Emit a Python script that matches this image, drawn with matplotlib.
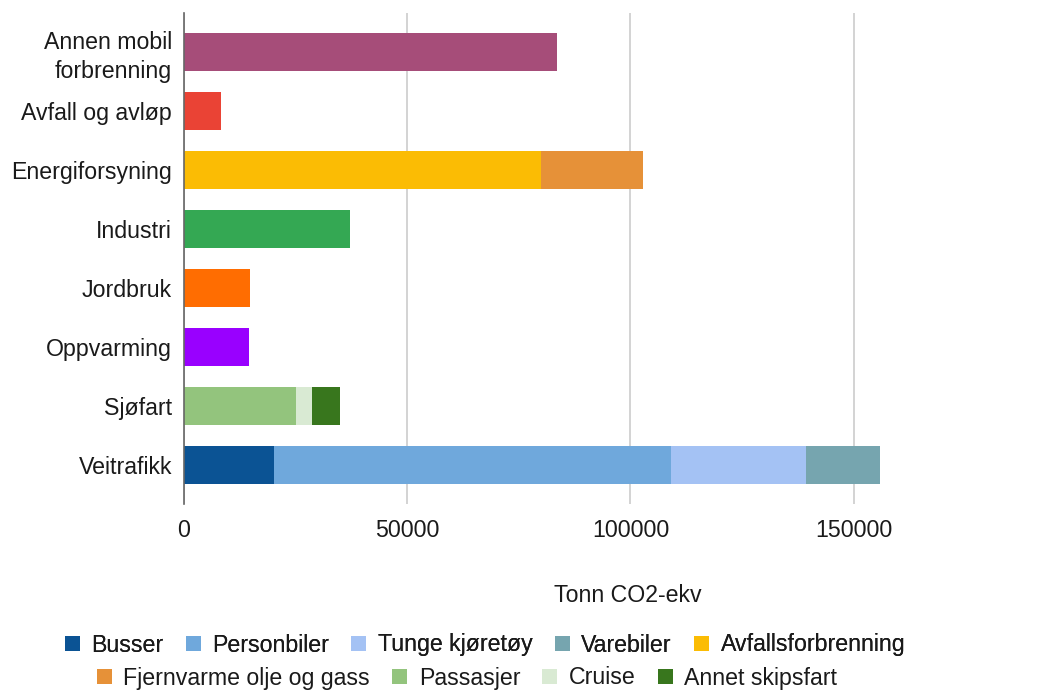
import numpy as np
import matplotlib
matplotlib.use('Agg')
import matplotlib.pyplot as plt
from matplotlib.patches import Patch

plt.rcParams['font.family'] = ['Liberation Sans', 'DejaVu Sans']

# categories (top to bottom)
kategorier = ['Annen mobil\nforbrenning', 'Avfall og avløp', 'Energiforsyning', 'Industri',
              'Jordbruk', 'Oppvarming', 'Sjøfart', 'Veitrafikk']

# stacked series, one value per category (Tonn CO2-ekv)
annen_mobil        = [83600, 0, 0, 0, 0, 0, 0, 0]
avfall_avlop       = [0, 8300, 0, 0, 0, 0, 0, 0]
avfallsforbrenning = [0, 0, 80000, 0, 0, 0, 0, 0]
fjernvarme         = [0, 0, 22850, 0, 0, 0, 0, 0]
industri           = [0, 0, 0, 37250, 0, 0, 0, 0]
jordbruk           = [0, 0, 0, 0, 14850, 0, 0, 0]
oppvarming         = [0, 0, 0, 0, 0, 14650, 0, 0]
passasjer          = [0, 0, 0, 0, 0, 0, 25150, 0]
cruise             = [0, 0, 0, 0, 0, 0, 3500, 0]
annet_skipsfart    = [0, 0, 0, 0, 0, 0, 6350, 0]
busser             = [0, 0, 0, 0, 0, 0, 0, 20200]
personbiler        = [0, 0, 0, 0, 0, 0, 0, 88800]
tunge_kjoretoy     = [0, 0, 0, 0, 0, 0, 0, 30400]
varebiler          = [0, 0, 0, 0, 0, 0, 0, 16600]

serier = [
    ('Busser', busser, '#0B5394', True),
    ('Personbiler', personbiler, '#6FA8DC', True),
    ('Tunge kjøretøy', tunge_kjoretoy, '#A4C2F4', True),
    ('Varebiler', varebiler, '#76A5AF', True),
    ('Avfallsforbrenning', avfallsforbrenning, '#FBBC04', True),
    ('Fjernvarme olje og gass', fjernvarme, '#E69138', True),
    ('Passasjer', passasjer, '#93C47D', True),
    ('Cruise', cruise, '#D9EAD3', True),
    ('Annet skipsfart', annet_skipsfart, '#38761D', True),
    ('Annen mobil forbrenning', annen_mobil, '#A64D79', False),
    ('Avfall og avløp', avfall_avlop, '#EA4335', False),
    ('Industri', industri, '#34A853', False),
    ('Jordbruk', jordbruk, '#FF6D01', False),
    ('Oppvarming', oppvarming, '#9900FF', False),
]

FS = 16.7
fig = plt.figure(figsize=(10.62, 6.9), dpi=100)
ax = fig.add_axes([184/1062, 186/690, 892.8/1062, 491/690])

y = np.arange(len(kategorier))
left = np.zeros(len(kategorier))
handles = []
for navn, vals, farge, i_legend in serier:
    vals = np.array(vals, dtype=float)
    ax.barh(y, vals, left=left, height=0.637, color=farge, edgecolor='none', zorder=3)
    left += vals
    if i_legend:
        handles.append(Patch(facecolor=farge, edgecolor='none', label=navn))

ax.set_xlim(0, 200000)
ax.set_ylim(len(kategorier) - 1 + 0.66, -0.66)
ax.set_xticks([0, 50000, 100000, 150000])
ax.set_xticklabels(['0', '50000', '100000', '150000'])
ax.set_yticks(y)
ax.set_yticklabels(kategorier)
ax.tick_params(axis='both', length=0, labelsize=FS, colors='#1a1a1a')
ax.tick_params(axis='x', pad=11)
ax.tick_params(axis='y', pad=8.5)
for lbl in ax.get_yticklabels():
    lbl.set_horizontalalignment('right')
    lbl.set_multialignment('right')
    lbl.set_linespacing(1.32)
ax.grid(axis='x', color='#CCCCCC', linewidth=1.2, zorder=0)
for s in ['top', 'right', 'bottom']:
    ax.spines[s].set_visible(False)
ax.spines['left'].set_color('#666666')
ax.spines['left'].set_linewidth(1.2)
ax.spines['left'].set_zorder(4)

fig.text(628/1062, 1 - 596/690, 'Tonn CO2-ekv', ha='center', va='center', fontsize=FS, color='#1a1a1a')

leg_kw = dict(frameon=False, fontsize=FS, handlelength=0.65, handleheight=0.65,
              handletextpad=0.5, columnspacing=0.95, borderpad=0, borderaxespad=0)
leg1 = fig.legend(handles=handles[:5], ncol=5, loc='center',
                  bbox_to_anchor=(485/1062, 1 - 645/690), **leg_kw)
fig.add_artist(leg1)
leg2 = fig.legend(handles=handles[5:], ncol=4, loc='center',
                  bbox_to_anchor=(467/1062, 1 - 678/690), **leg_kw)
for leg in (leg1, leg2):
    for t in leg.get_texts():
        t.set_color('#1a1a1a')

fig.savefig('out.png', dpi=100)
